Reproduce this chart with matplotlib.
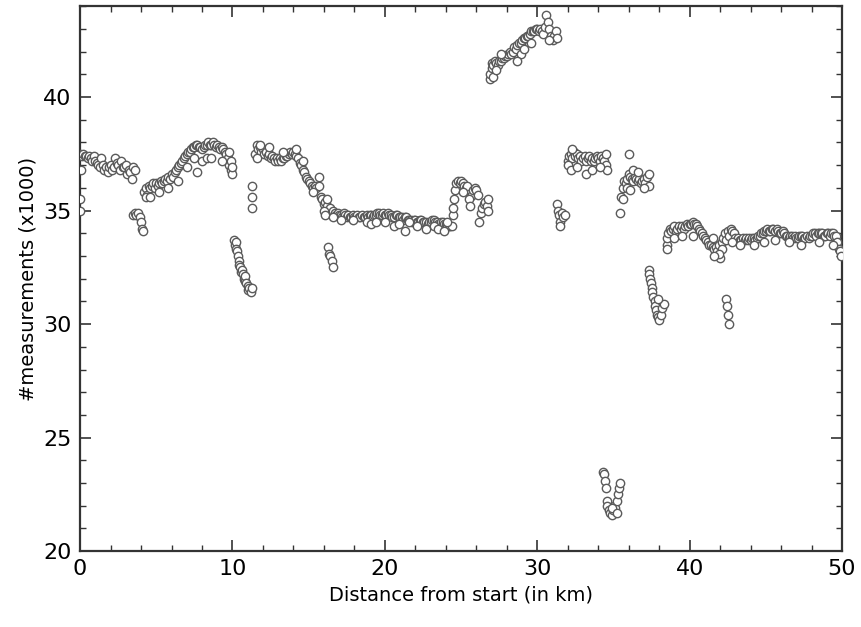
import matplotlib
matplotlib.use("Agg")
from matplotlib import pyplot as plt
from matplotlib.ticker import MultipleLocator

seg_a_x = [0.0, 0.1, 0.2, 0.3, 0.4, 0.5, 0.6, 0.7, 0.8, 0.9, 1.0, 1.1, 1.2, 1.3, 1.4, 1.5, 1.6, 1.7, 1.8,
           1.9, 2.0, 2.1, 2.2, 2.3, 2.4, 2.5, 2.6, 2.7, 2.8, 2.9, 3.0, 3.1, 3.2, 3.3, 3.4, 3.5, 3.6,
           0.0, 0.0, 0.05, 3.5, 3.6, 3.7, 3.8, 3.9, 4.0, 4.05, 4.1]
seg_a_y = [37.5, 37.4, 37.5, 37.4, 37.4, 37.3, 37.4, 37.3, 37.2, 37.4, 37.2, 37.1, 37.0, 36.9, 37.3, 37.0,
           36.8, 36.9, 36.7, 36.9, 37.0, 36.8, 36.9, 37.3, 37.1, 37.0, 36.8, 37.2, 36.9, 36.9, 37.0, 36.6,
           36.8, 36.7, 36.4, 36.9, 36.8,
           35.5, 35.0, 36.8, 34.8, 34.9, 34.8, 34.9, 34.7, 34.5, 34.2, 34.1]

seg_b_x = [4.2, 4.3, 4.4, 4.5, 4.6, 4.7, 4.8, 4.9, 5.0, 5.1, 5.2, 5.3, 5.4, 5.5, 5.6, 5.7, 5.8, 5.9, 6.0,
           6.1, 6.2, 6.3, 6.4, 6.5, 6.6, 6.7, 6.8, 6.9, 7.0, 7.1, 7.2, 7.3, 7.4, 7.5, 7.6, 7.7, 7.8, 7.9,
           8.0, 8.1, 8.2, 8.3, 8.4, 8.5, 8.6, 8.7, 8.8, 8.9, 9.0, 9.1, 9.2, 9.3, 9.4, 9.5, 9.6, 9.7, 9.8,
           9.9, 10.0,
           4.3, 4.6, 5.2, 5.8, 6.4, 7.0, 7.5, 7.7, 8.0, 8.3, 8.6, 9.3, 9.8, 9.9, 10.0]
seg_b_y = [35.8, 36.0, 35.7, 36.1, 36.0, 36.1, 36.2, 36.0, 36.2, 36.1, 36.2, 36.3, 36.2, 36.3, 36.4, 36.3,
           36.5, 36.4, 36.6, 36.5, 36.7, 36.8, 36.9, 37.0, 37.1, 37.2, 37.3, 37.4, 37.5, 37.6, 37.6, 37.7,
           37.8, 37.8, 37.9, 37.9, 37.8, 37.8, 37.7, 37.8, 37.9, 37.9, 38.0, 37.9, 37.9, 38.0, 37.9, 37.8,
           37.9, 37.8, 37.7, 37.8, 37.7, 37.6, 37.5, 37.3, 37.0, 36.8, 36.6,
           35.6, 35.6, 35.8, 36.0, 36.3, 36.9, 37.3, 36.7, 37.2, 37.3, 37.3, 37.2, 37.6, 37.2, 36.9]

seg_c_x = [10.1, 10.15, 10.2, 10.25, 10.3, 10.35, 10.4, 10.45, 10.5, 10.55, 10.6, 10.7, 10.75, 10.8,
           10.85, 10.9, 11.0, 11.05, 11.1, 11.2, 11.25, 11.3, 11.3, 11.3]
seg_c_y = [33.7, 33.5, 33.6, 33.3, 33.2, 33.0, 32.8, 32.6, 32.5, 32.3, 32.4, 32.2, 32.0, 31.9, 32.1, 31.8,
           31.7, 31.5, 31.6, 31.4, 31.6, 36.1, 35.6, 35.1]

seg_d_x = [11.5, 11.6, 11.7, 11.8, 11.9, 12.0, 12.1, 12.2, 12.3, 12.4, 12.5, 12.6, 12.7, 12.8, 12.9, 13.0,
           13.1, 13.2, 13.3, 13.4, 13.5, 13.6, 13.7, 13.8, 13.9, 14.0, 14.1, 14.2, 14.3, 14.4, 14.5, 14.6,
           14.7, 14.8, 14.9, 15.0, 15.1, 15.2, 15.3, 15.4, 15.5,
           11.6, 11.8, 12.4, 13.3, 14.2, 14.6, 15.7, 15.7, 15.3]
seg_d_y = [37.5, 37.9, 37.7, 37.8, 37.6, 37.7, 37.5, 37.6, 37.4, 37.5, 37.3, 37.4, 37.3, 37.2, 37.3, 37.2,
           37.3, 37.2, 37.3, 37.3, 37.4, 37.4, 37.5, 37.6, 37.5, 37.6, 37.5, 37.4, 37.3, 37.1, 37.0, 36.8,
           36.7, 36.5, 36.4, 36.3, 36.2, 36.1, 36.0, 36.1, 36.0,
           37.3, 37.9, 37.8, 37.6, 37.7, 37.2, 36.5, 36.1, 35.8]

seg_e_x = [15.8, 15.9, 16.0, 16.1, 16.2, 16.3, 16.4, 16.5, 16.6, 16.7, 16.8, 16.9, 17.0, 17.1, 17.2, 17.3,
           17.4, 17.5, 17.6, 17.7, 17.8, 17.9, 18.0, 18.1, 18.2, 18.3, 18.4, 18.5, 18.6, 18.7, 18.8, 18.9,
           19.0, 19.1, 19.2, 19.3, 19.4, 19.5, 19.6, 19.7, 19.8, 19.9, 20.0, 20.1, 20.2, 20.3, 20.4, 20.5,
           20.6, 20.7, 20.8, 20.9, 21.0, 21.1, 21.2, 21.3, 21.4, 21.5, 21.6, 21.7, 21.8, 21.9, 22.0, 22.1,
           22.2, 22.3, 22.4, 22.5, 22.6, 22.7, 22.8, 22.9, 23.0, 23.1, 23.2, 23.3, 23.4, 23.5, 23.6, 23.7,
           23.8, 23.9, 24.0, 24.1, 24.2, 24.3, 24.4,
           16.0, 16.1, 16.2, 16.6, 17.1, 17.9, 18.8, 19.1, 19.4, 20.0, 20.6, 20.9, 21.3, 21.6, 22.1, 22.7,
           23.2, 23.5, 23.9, 24.1,
           16.3, 16.35, 16.4, 16.5, 16.6]
seg_e_y = [35.6, 35.5, 35.3, 35.4, 35.2, 35.0, 35.1, 34.9, 35.0, 34.9, 34.8, 34.9, 34.8, 34.8, 34.7, 34.9,
           34.8, 34.7, 34.8, 34.7, 34.7, 34.8, 34.7, 34.7, 34.8, 34.7, 34.7, 34.8, 34.7, 34.7, 34.8, 34.7,
           34.8, 34.8, 34.7, 34.8, 34.8, 34.9, 34.9, 34.8, 34.8, 34.9, 34.8, 34.8, 34.9, 34.8, 34.8, 34.7,
           34.7, 34.8, 34.8, 34.7, 34.7, 34.7, 34.6, 34.7, 34.7, 34.6, 34.6, 34.6, 34.5, 34.6, 34.6, 34.5,
           34.5, 34.6, 34.6, 34.5, 34.5, 34.5, 34.4, 34.5, 34.5, 34.6, 34.6, 34.5, 34.5, 34.4, 34.4, 34.5,
           34.5, 34.4, 34.4, 34.3, 34.3, 34.3, 34.3,
           35.0, 34.8, 35.5, 34.7, 34.6, 34.6, 34.5, 34.4, 34.5, 34.5, 34.3, 34.4, 34.1, 34.5, 34.3, 34.2,
           34.3, 34.2, 34.1, 34.5,
           33.4, 33.1, 33.0, 32.8, 32.5]

seg_f_x = [24.5, 24.5, 24.55, 24.6, 24.7, 24.8, 24.9, 25.0, 25.1, 25.2, 25.3, 25.4, 25.5, 25.6, 25.4, 25.7,
           25.8, 25.9, 26.0, 26.1, 26.2, 26.3, 26.4, 26.5, 26.6, 26.7, 26.8, 26.8, 25.5, 25.6, 25.1]
seg_f_y = [34.8, 35.1, 35.5, 35.9, 36.2, 36.3, 36.2, 36.3, 36.2, 36.1, 36.0, 35.9, 35.8, 35.6, 36.1, 35.7,
           35.9, 36.0, 35.9, 35.7, 34.5, 34.9, 35.1, 35.3, 35.4, 35.2, 35.5, 35.0, 35.5, 35.2, 35.8]

seg_g_x = [26.9, 26.9, 27.0, 27.0, 27.1, 27.2, 27.3, 27.4, 27.5, 27.6, 27.7, 27.8, 27.9, 28.0, 28.1, 28.2,
           28.3, 28.4, 28.5, 28.6, 28.7, 28.8, 28.9, 29.0, 29.1, 29.2, 29.3, 29.4, 29.5, 29.6, 29.7, 29.8,
           29.9, 30.0, 30.1, 30.2, 30.3, 30.4, 30.5, 30.6, 30.7, 30.8, 30.9, 31.0, 31.1, 31.2, 31.3, 30.8,
           27.1, 27.3, 28.9, 29.1, 28.7, 27.6, 29.6]
seg_g_y = [40.8, 41.0, 41.3, 41.5, 41.4, 41.6, 41.5, 41.4, 41.6, 41.6, 41.7, 41.7, 41.8, 41.8, 41.9, 42.0,
           41.9, 42.0, 42.2, 42.1, 42.3, 42.4, 42.4, 42.5, 42.6, 42.6, 42.7, 42.7, 42.8, 42.9, 42.9, 42.9,
           43.0, 43.0, 42.9, 43.0, 42.9, 42.8, 43.1, 43.6, 43.3, 43.0, 42.7, 42.5, 42.7, 42.9, 42.6, 42.5,
           40.9, 41.2, 41.9, 42.1, 41.6, 41.9, 42.4]

seg_h_x = [31.3, 31.35, 31.4, 31.5, 31.6, 31.7, 31.8, 31.5]
seg_h_y = [35.3, 35.0, 34.8, 34.5, 34.9, 34.7, 34.8, 34.3]

seg_i_x = [32.0, 32.1, 32.2, 32.3, 32.4, 32.5, 32.6, 32.7, 32.8, 32.9, 33.0, 33.1, 33.2, 33.3, 33.4, 33.5,
           33.6, 33.7, 33.8, 33.9, 34.0, 34.1, 34.2, 34.3, 34.4, 34.5, 34.6,
           32.0, 32.2, 32.6, 33.2, 33.6, 34.1, 34.5, 32.3]
seg_i_y = [37.2, 37.4, 37.5, 37.3, 37.6, 37.4, 37.5, 37.3, 37.4, 37.2, 37.3, 37.4, 37.2, 37.3, 37.4, 37.2,
           37.3, 37.2, 37.3, 37.4, 37.3, 37.2, 37.4, 37.3, 37.2, 37.0, 36.8,
           37.0, 36.8, 36.9, 36.6, 36.8, 36.9, 37.5, 37.7]

seg_j_x = [34.3, 34.4, 34.45, 34.5, 34.55, 34.6, 34.7, 34.8, 34.9, 35.0, 35.05, 35.1, 35.2, 35.3, 35.35,
           35.4, 34.9, 35.2]
seg_j_y = [23.5, 23.4, 23.1, 22.8, 22.2, 22.0, 21.8, 21.7, 21.6, 21.8, 22.0, 21.9, 22.2, 22.5, 22.8, 23.0,
           21.9, 21.7]

seg_k_x = [35.4, 35.5, 35.6, 35.6, 35.7, 35.8, 35.9, 36.0, 36.0, 36.1, 36.2, 36.3, 36.4, 36.5, 36.6, 36.7,
           36.8, 36.9, 37.0, 37.1, 37.2, 37.3, 37.3, 35.9, 36.3, 36.6, 37.0, 36.1]
seg_k_y = [34.9, 35.6, 35.5, 36.0, 36.3, 36.2, 36.4, 36.6, 37.5, 36.5, 36.4, 36.3, 36.5, 36.4, 36.3, 36.4,
           36.2, 36.3, 36.4, 36.2, 36.5, 36.6, 36.1, 36.0, 36.8, 36.7, 36.0, 35.9]

seg_l_x = [37.3, 37.35, 37.4, 37.45, 37.5, 37.55, 37.6, 37.7, 37.75, 37.8, 37.85, 37.9, 38.0, 38.1, 38.2,
           38.3, 37.9]
seg_l_y = [32.4, 32.2, 32.0, 31.8, 31.6, 31.4, 31.2, 31.0, 30.8, 30.6, 30.4, 30.3, 30.2, 30.4, 30.7, 30.9,
           31.1]

seg_m_x = [38.5, 38.5, 38.6, 38.7, 38.8, 38.9, 39.0, 39.1, 39.2, 39.3, 39.4, 39.5, 39.6, 39.7, 39.8, 39.9,
           40.0, 40.1, 40.2, 40.3, 40.4, 40.5, 40.6, 40.7, 40.8, 40.9, 41.0, 41.1, 41.2, 41.3, 41.4, 41.5,
           41.6, 41.7, 41.8, 41.9, 42.0, 42.1, 42.2, 42.3, 42.4, 42.5, 42.6, 42.7, 42.8, 42.9, 43.0, 43.1,
           43.2, 43.3, 43.4, 43.5, 43.6, 43.7, 43.8, 43.9, 44.0, 44.1, 44.2, 44.3, 44.4, 44.5, 44.6, 44.7,
           44.8, 44.9, 45.0, 45.1, 45.2, 45.3, 45.4, 45.5, 45.6, 45.7, 45.8, 45.9, 46.0, 46.1, 46.2, 46.3,
           46.4, 46.5, 46.6, 46.7, 46.8, 46.9, 47.0, 47.1, 47.2, 47.3, 47.4, 47.5, 47.6, 47.7, 47.8, 47.9,
           48.0, 48.1, 48.2, 48.3, 48.4, 48.5, 48.6, 48.7, 48.8, 48.9, 49.0, 49.1, 49.2, 49.3, 49.4, 49.5,
           49.6, 49.7, 49.8, 49.85, 49.9,
           38.5, 39.0, 39.5, 40.2, 41.5, 42.1, 42.8, 43.3, 44.2, 44.9, 45.6, 46.5, 47.3, 48.5, 49.4, 41.9,
           41.6,
           42.4, 42.45, 42.5, 42.55]
seg_m_y = [33.5, 33.8, 34.0, 34.2, 34.1, 34.2, 34.3, 34.1, 34.2, 34.3, 34.2, 34.3, 34.2, 34.3, 34.4, 34.3,
           34.4, 34.4, 34.5, 34.4, 34.4, 34.3, 34.2, 34.1, 34.0, 33.9, 33.8, 33.7, 33.6, 33.5, 33.5, 33.4,
           33.3, 33.4, 33.2, 33.5, 32.9, 33.6, 33.8, 34.0, 33.7, 34.1, 33.9, 34.2, 34.1, 34.0, 33.8, 33.7,
           33.8, 33.7, 33.7, 33.8, 33.7, 33.8, 33.7, 33.8, 33.7, 33.8, 33.8, 33.7, 33.8, 33.9, 33.9, 34.0,
           34.0, 34.1, 34.1, 34.2, 34.1, 34.1, 34.2, 34.2, 34.1, 34.2, 34.1, 34.0, 34.0, 34.1, 34.0, 33.9,
           33.9, 33.8, 33.9, 33.9, 33.8, 33.9, 33.8, 33.8, 33.9, 33.9, 33.9, 33.8, 33.8, 33.9, 33.8, 33.9,
           33.9, 34.0, 34.0, 33.9, 34.0, 34.0, 34.0, 34.0, 33.9, 33.9, 34.0, 34.0, 33.9, 34.0, 34.0, 33.9,
           33.9, 33.6, 33.3, 33.2, 33.0,
           33.3, 33.8, 33.9, 33.9, 33.8, 33.3, 33.6, 33.5, 33.5, 33.6, 33.7, 33.6, 33.5, 33.6, 33.5, 33.1,
           33.0,
           31.1, 30.8, 30.4, 30.0]

segments = [(seg_a_x, seg_a_y), (seg_b_x, seg_b_y), (seg_c_x, seg_c_y), (seg_d_x, seg_d_y),
            (seg_e_x, seg_e_y), (seg_f_x, seg_f_y), (seg_g_x, seg_g_y), (seg_h_x, seg_h_y),
            (seg_i_x, seg_i_y), (seg_j_x, seg_j_y), (seg_k_x, seg_k_y), (seg_l_x, seg_l_y),
            (seg_m_x, seg_m_y)]

fig = plt.figure(figsize=(8.61, 6.27), dpi=100)
ax = fig.add_axes([0.093, 0.121, 0.885, 0.869])

for xs, ys in segments:
    ax.scatter(xs, ys, s=36, facecolors='white', edgecolors='#5a5a5a', linewidths=1.0, zorder=3)

ax.set_xlim(0, 50)
ax.set_ylim(20, 44)
ax.xaxis.set_major_locator(MultipleLocator(10))
ax.xaxis.set_minor_locator(MultipleLocator(2))
ax.yaxis.set_major_locator(MultipleLocator(5))
ax.yaxis.set_minor_locator(MultipleLocator(1))
ax.tick_params(which='both', direction='in', top=True, right=True, color='#333333')
ax.tick_params(which='major', length=8, width=1.2, labelsize=16, pad=6)
ax.tick_params(which='minor', length=4, width=1.0)
for side in ax.spines.values():
    side.set_linewidth(1.6)
    side.set_color('#333333')

ax.set_xlabel('Distance from start (in km)', fontsize=14)
ax.set_ylabel('#measurements (x1000)', fontsize=14)

fig.savefig("out.png", dpi=100)
